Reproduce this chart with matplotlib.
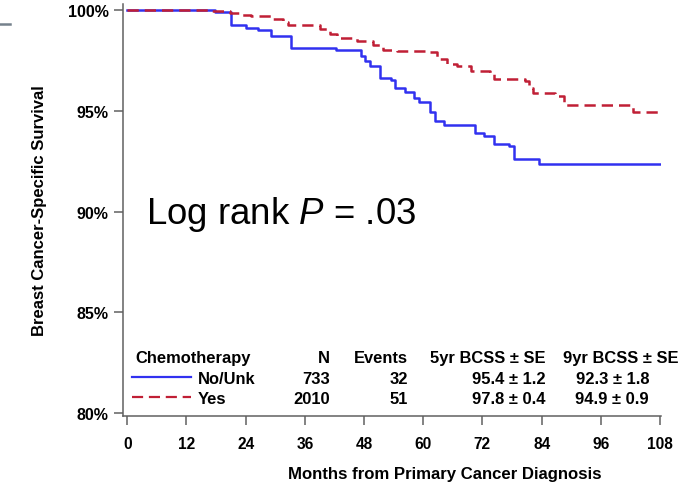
import matplotlib
matplotlib.use("Agg")
import matplotlib.pyplot as plt
from matplotlib.lines import Line2D

# -------------------------
# Data
# -------------------------

months_no = [0, 17.8, 21.1, 24.1, 26.4, 29.2, 33.2, 42.3, 47.3, 48.1, 49.3,
             51.3, 53.4, 54.2, 56.3, 58.2, 59.2, 61.4, 62.3, 64.3, 70.4,
             72.3, 74.4, 77.3, 78.4, 83.5, 108.1]
surv_no = [100, 99.89, 99.25, 99.12, 99.0, 98.72, 98.11, 98.04, 97.73, 97.45,
           97.21, 96.63, 96.53, 96.12, 95.95, 95.64, 95.45, 94.94, 94.49,
           94.28, 93.88, 93.75, 93.37, 93.25, 92.62, 92.35, 92.35]

months_yes = [0, 16.8, 20.9, 22.9, 25.0, 29.2, 31.6, 32.6, 39.1, 41.1, 42.5,
              46.5, 49.9, 51.9, 54.6, 60.7, 62.8, 64.8, 66.8, 69.6, 73.6,
              74.4, 80.6, 81.5, 82.3, 86.7, 88.5, 102.6, 108.1]
surv_yes = [100, 99.97, 99.85, 99.77, 99.69, 99.55, 99.42, 99.27, 99.05, 98.8,
            98.62, 98.44, 98.27, 98.01, 97.96, 97.9, 97.56, 97.33, 97.2,
            96.98, 96.83, 96.6, 96.47, 96.15, 95.9, 95.74, 95.29, 94.94, 94.94]

groups = ["No/Unk", "Yes"]
n_patients = ["733", "2010"]
events = ["32", "51"]
bcss_5yr = ["95.4 \u00b1 1.2", "97.8 \u00b1 0.4"]
bcss_9yr = ["92.3 \u00b1 1.8", "94.9 \u00b1 0.9"]

x_ticks = list(range(0, 109, 12))
y_ticks = [80, 85, 90, 95, 100]

p_text = r"Log rank $\mathit{P}$ = .03"

# -------------------------
# Style
# -------------------------

plt.rcParams["font.family"] = ["Liberation Sans", "DejaVu Sans"]
plt.rcParams["mathtext.fontset"] = "custom"
plt.rcParams["mathtext.rm"] = "Liberation Sans"
plt.rcParams["mathtext.it"] = "Liberation Sans:italic"
plt.rcParams["mathtext.bf"] = "Liberation Sans:bold"

W, H = 682, 489
blue = "#3131f0"
red = "#c01f35"
axis_gray = "#606060"


def fx(px):
    return px / W


def fy(py):
    return 1 - py / H


# -------------------------
# Figure
# -------------------------

fig = plt.figure(figsize=(W / 100, H / 100), dpi=100)

ax = fig.add_axes([fx(123), fy(417), (660.5 - 123) / W, (417 - 5) / H])

ax.step(months_no, surv_no, where="post", color=blue, lw=1.8)

red_line, = ax.step(months_yes, surv_yes, where="post", color=red, lw=1.8)
red_line.set_dashes((4.5, 2.4))

ax.set_xlim(-0.87, 108.1)
ax.set_ylim(79.85, 100.3)

ax.set_xticks(x_ticks)
ax.set_xticklabels([str(v) for v in x_ticks], fontweight="bold", fontsize=11.2)
ax.set_yticks(y_ticks)
ax.set_yticklabels([f"{v}%" for v in y_ticks], fontweight="bold", fontsize=11.5)

ax.tick_params(axis="x", length=6.5, width=1.1, color=axis_gray, pad=8)
ax.tick_params(axis="y", length=6.5, width=1.1, color=axis_gray, pad=4)

for side in ["top", "right"]:
    ax.spines[side].set_visible(False)
for side in ["left", "bottom"]:
    ax.spines[side].set_color(axis_gray)
    ax.spines[side].set_linewidth(1.1)

ax.set_xlabel("Months from Primary Cancer Diagnosis",
              fontweight="bold", fontsize=12.1)
ax.xaxis.set_label_coords(0.599, -0.121)
ax.set_ylabel("Breast Cancer-Specific Survival",
              fontweight="bold", fontsize=12, labelpad=15)

# -------------------------
# Annotations
# -------------------------

fig.text(fx(146.5), fy(224.5), p_text, fontsize=26.4, va="baseline")

# legend table
hdr_y = 363
row_y = [384, 404]
fs = 11.9

fig.text(fx(135), fy(hdr_y), "Chemotherapy", fontsize=fs, fontweight="bold", va="baseline")
fig.text(fx(330), fy(hdr_y), "N", fontsize=fs, fontweight="bold", va="baseline", ha="right")
fig.text(fx(408), fy(hdr_y), "Events", fontsize=fs, fontweight="bold", va="baseline", ha="right")
fig.text(fx(546), fy(hdr_y), "5yr BCSS \u00b1 SE", fontsize=fs, fontweight="bold", va="baseline", ha="right")
fig.text(fx(563), fy(hdr_y), "9yr BCSS \u00b1 SE", fontsize=fs, fontweight="bold", va="baseline")

for i, (grp, col) in enumerate(zip(groups, [blue, red])):
    yb = row_y[i]
    sample = Line2D([fx(132), fx(191)], [fy(yb - 6.5), fy(yb - 6.5)],
                    transform=fig.transFigure, color=col, lw=1.6)
    if i == 1:
        sample.set_dashes((5, 2.6))
    fig.add_artist(sample)
    fig.text(fx(198), fy(yb), grp, fontsize=fs, fontweight="bold", va="baseline")
    fig.text(fx(330), fy(yb), n_patients[i], fontsize=fs, fontweight="bold", va="baseline", ha="right")
    fig.text(fx(408), fy(yb), events[i], fontsize=fs, fontweight="bold", va="baseline", ha="right")
    fig.text(fx(546), fy(yb), bcss_5yr[i], fontsize=fs, fontweight="bold", va="baseline", ha="right")
    fig.text(fx(649), fy(yb), bcss_9yr[i], fontsize=fs, fontweight="bold", va="baseline", ha="right")

# small gray rule at the top-left edge
fig.add_artist(Line2D([0, fx(10)], [fy(24.5), fy(24.5)],
                      transform=fig.transFigure, color="#75818c", lw=1.8))

fig.savefig("out.png", dpi=100)
